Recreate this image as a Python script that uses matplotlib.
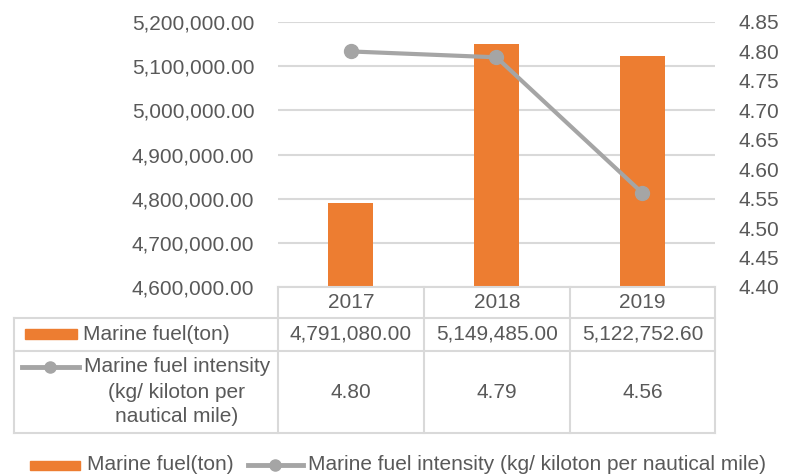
import numpy as np
import matplotlib
matplotlib.use("Agg")
import matplotlib.pyplot as plt
from matplotlib.lines import Line2D
from matplotlib.patches import Rectangle
from matplotlib.ticker import FuncFormatter, MultipleLocator

# data
years = ["2017", "2018", "2019"]
fuel_ton = [4791080.00, 5149485.00, 5122752.60]
fuel_intensity = [4.80, 4.79, 4.56]
fuel_label = "Marine fuel(ton)"
intensity_label = "Marine fuel intensity (kg/ kiloton per nautical mile)"
intensity_row_lines = ["Marine fuel intensity", "(kg/ kiloton per", "nautical mile)"]

ORANGE = "#ED7D31"
GREY = "#A5A5A5"
TEXT = "#595959"
GRID = "#D9D9D9"
FS = 15

plt.rcParams["font.family"] = ["Liberation Sans", "DejaVu Sans"]

W, H = 804, 476
fig = plt.figure(figsize=(W / 100, H / 100), dpi=100)


def fx(x):
    return x / W


def fy(y):
    return 1 - y / H


# plot area in pixels
L, R, T, B = 278, 715, 22, 287
ax = fig.add_axes([fx(L), fy(B), fx(R) - fx(L), fy(T) - fy(B)])
x = np.arange(len(years))
ax.bar(x, fuel_ton, width=0.31, color=ORANGE, zorder=2)
ax.set_xlim(-0.5, len(years) - 0.5)
ax.set_ylim(4600000, 5200000)
ax.yaxis.set_major_locator(MultipleLocator(100000))
ax.yaxis.set_major_formatter(FuncFormatter(lambda v, p: f"{v:,.2f}"))
ax.grid(axis="y", color=GRID, linewidth=1.5, zorder=0)
ax.set_axisbelow(True)
ax.set_xticks([])
for s in ax.spines.values():
    s.set_visible(False)
ax.tick_params(axis="y", length=0, pad=17, labelsize=FS, labelcolor=TEXT)

ax2 = ax.twinx()
ax2.plot(x, fuel_intensity, color=GREY, linewidth=3, marker="o",
         markersize=10, zorder=3)
ax2.set_ylim(4.40, 4.85)
ax2.yaxis.set_major_locator(MultipleLocator(0.05))
ax2.yaxis.set_major_formatter(FuncFormatter(lambda v, p: f"{v:.2f}"))
for s in ax2.spines.values():
    s.set_visible(False)
ax2.tick_params(axis="y", length=0, pad=17, labelsize=FS, labelcolor=TEXT)

# data table under the plot
col_edges = [L, 424, 570, R]
row_edges = [B, 318, 351, 433]
tbl_left = 14


def hline(y, x0, x1):
    fig.add_artist(Line2D([fx(x0), fx(x1)], [fy(y), fy(y)], color=GRID, linewidth=1.5))


def vline(x0, y0, y1):
    fig.add_artist(Line2D([fx(x0), fx(x0)], [fy(y0), fy(y1)], color=GRID, linewidth=1.5))


hline(row_edges[0], L, R)
for y in row_edges[1:]:
    hline(y, tbl_left, R)
for cx in col_edges:
    vline(cx, row_edges[0], row_edges[-1])
vline(tbl_left, row_edges[1], row_edges[-1])

for i, yr in enumerate(years):
    cx = (col_edges[i] + col_edges[i + 1]) / 2
    fig.text(fx(cx), fy((row_edges[0] + row_edges[1]) / 2), yr, ha="center",
             va="center", fontsize=FS, color=TEXT)
    fig.text(fx(cx), fy((row_edges[1] + row_edges[2]) / 2), f"{fuel_ton[i]:,.2f}",
             ha="center", va="center", fontsize=FS, color=TEXT)
    fig.text(fx(cx), fy((row_edges[2] + row_edges[3]) / 2), f"{fuel_intensity[i]:.2f}",
             ha="center", va="center", fontsize=FS, color=TEXT)

# row headers with their series keys
fig.add_artist(Rectangle((fx(25), fy(339)), fx(77) - fx(25), fy(329) - fy(339),
                         color=ORANGE, transform=fig.transFigure))
fig.text(fx(83), fy(334), fuel_label, ha="left", va="center", fontsize=FS, color=TEXT)
fig.add_artist(Line2D([fx(22), fx(79)], [fy(367), fy(367)], color=GREY, linewidth=3.5))
fig.add_artist(Line2D([fx(50)], [fy(367)], color=GREY, marker="o", markersize=8))
for k, (line, yy) in enumerate(zip(intensity_row_lines, [367, 392, 416])):
    fig.text(fx(177), fy(yy), line, ha="center", va="center", fontsize=FS, color=TEXT)

# legend along the bottom
fig.add_artist(Rectangle((fx(30), fy(470)), fx(80) - fx(30), fy(461) - fy(470),
                         color=ORANGE, transform=fig.transFigure))
fig.text(fx(87), fy(465), fuel_label, ha="left", va="center", fontsize=FS, color=TEXT)
fig.add_artist(Line2D([fx(248), fx(303)], [fy(465), fy(465)], color=GREY, linewidth=3.5))
fig.add_artist(Line2D([fx(275)], [fy(465)], color=GREY, marker="o", markersize=8))
fig.text(fx(308), fy(465), intensity_label, ha="left", va="center", fontsize=FS, color=TEXT)

fig.savefig("out.png", dpi=100, facecolor="white")
